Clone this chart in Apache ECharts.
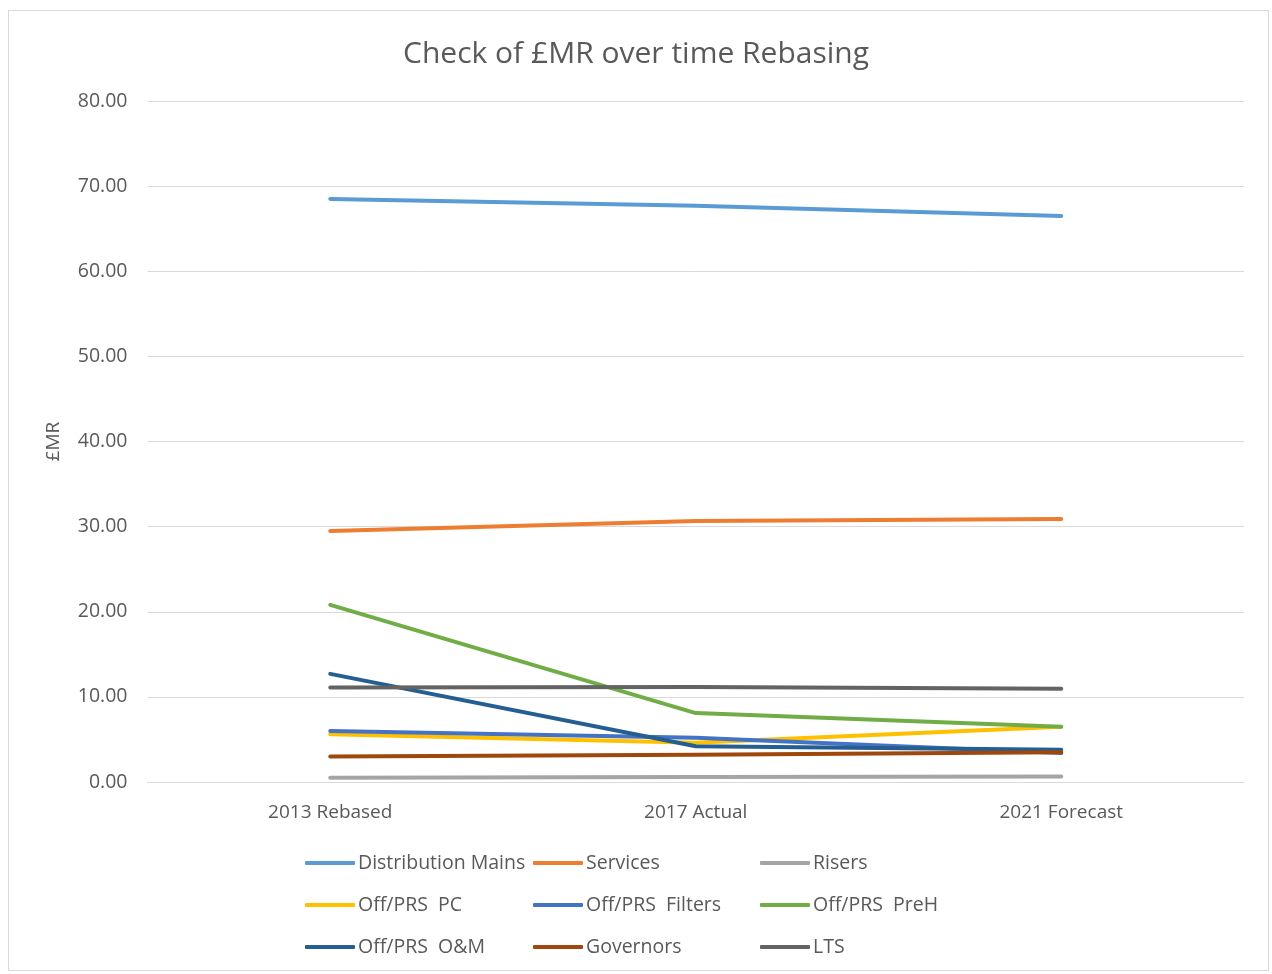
<!DOCTYPE html>
<html><head><meta charset="utf-8">
<script src="https://cdn.jsdelivr.net/npm/echarts@6/dist/echarts.min.js"></script>
<style>
html,body{margin:0;padding:0;background:#fff;}
#frame{position:absolute;left:8px;top:10px;width:1261px;height:961px;border:1px solid #d9d9d9;box-sizing:border-box;}
#c{position:absolute;left:0;top:0;width:1272px;height:974px;}
</style></head>
<body><div id="frame"></div><div id="c"></div>
<script>
const categories = ['2013 Rebased', '2017 Actual', '2021 Forecast'];
const distributionMains = [68.5, 67.7, 66.5];
const services = [29.5, 30.65, 30.9];
const risers = [0.5, 0.6, 0.65];
const offPrsPC = [5.6, 4.6, 6.5];
const offPrsFilters = [6.0, 5.2, 3.4];
const offPrsPreH = [20.8, 8.1, 6.5];
const offPrsOM = [12.7, 4.2, 3.8];
const governors = [3.0, 3.2, 3.5];
const lts = [11.1, 11.15, 10.95];
const yTicks = {min: 0, max: 80, interval: 10};

const seriesDefs = [
  ['Distribution Mains', distributionMains, '#5b9bd5'],
  ['Services', services, '#ed7d31'],
  ['Risers', risers, '#a5a5a5'],
  ['Off/PRS  PC', offPrsPC, '#ffc000'],
  ['Off/PRS  Filters', offPrsFilters, '#4472c4'],
  ['Off/PRS  PreH', offPrsPreH, '#70ad47'],
  ['Off/PRS  O&M', offPrsOM, '#255e91'],
  ['Governors', governors, '#9e480e'],
  ['LTS', lts, '#636363']
];
const font = '"Open Sans", "Noto Sans", sans-serif';
const txt = '#595959';
const legendBase = {
  orient: 'vertical', top: 845, itemWidth: 50, itemHeight: 4, itemGap: 16,
  icon: 'roundRect',
  textStyle: {color: txt, fontSize: 19.5, fontFamily: font, padding: [0,0,0,-2], lineHeight: 26}
};
const chart = echarts.init(document.getElementById('c'));
chart.setOption({
  animation: false,
  title: {text: 'Check of £MR over time Rebasing', left: 'center', top: 34,
    textStyle: {color: txt, fontSize: 30, fontWeight: 'normal', fontFamily: font}},
  legend: [
    Object.assign({}, legendBase, {left: 300, data: [seriesDefs[0][0], seriesDefs[3][0], seriesDefs[6][0]]}),
    Object.assign({}, legendBase, {left: 528, data: [seriesDefs[1][0], seriesDefs[4][0], seriesDefs[7][0]]}),
    Object.assign({}, legendBase, {left: 755, data: [seriesDefs[2][0], seriesDefs[5][0], seriesDefs[8][0]]})
  ],
  grid: {left: 147.5, right: 28, top: 101, bottom: 192, containLabel: false},
  xAxis: {type: 'category', data: categories, boundaryGap: true,
    axisLine: {lineStyle: {color: '#d9d9d9', width: 1}}, axisTick: {show: false},
    axisLabel: {color: txt, fontSize: 19, fontFamily: font, margin: 21}},
  yAxis: {type: 'value', min: yTicks.min, max: yTicks.max, interval: yTicks.interval,
    name: '£MR', nameLocation: 'middle', nameGap: 84, nameRotate: 90,
    nameTextStyle: {color: txt, fontSize: 19, fontFamily: font},
    axisLine: {show: false}, axisTick: {show: false},
    splitLine: {lineStyle: {color: '#d9d9d9', width: 1}},
    axisLabel: {color: txt, fontSize: 19.5, fontFamily: font, margin: 20,
      formatter: v => v.toFixed(2)}},
  series: seriesDefs.map(([name, data, color]) => ({
    name, type: 'line', data, showSymbol: false, symbol: 'none',
    itemStyle: {color}, lineStyle: {color, width: 4, cap: 'round', join: 'round'}
  }))
});
</script></body></html>
